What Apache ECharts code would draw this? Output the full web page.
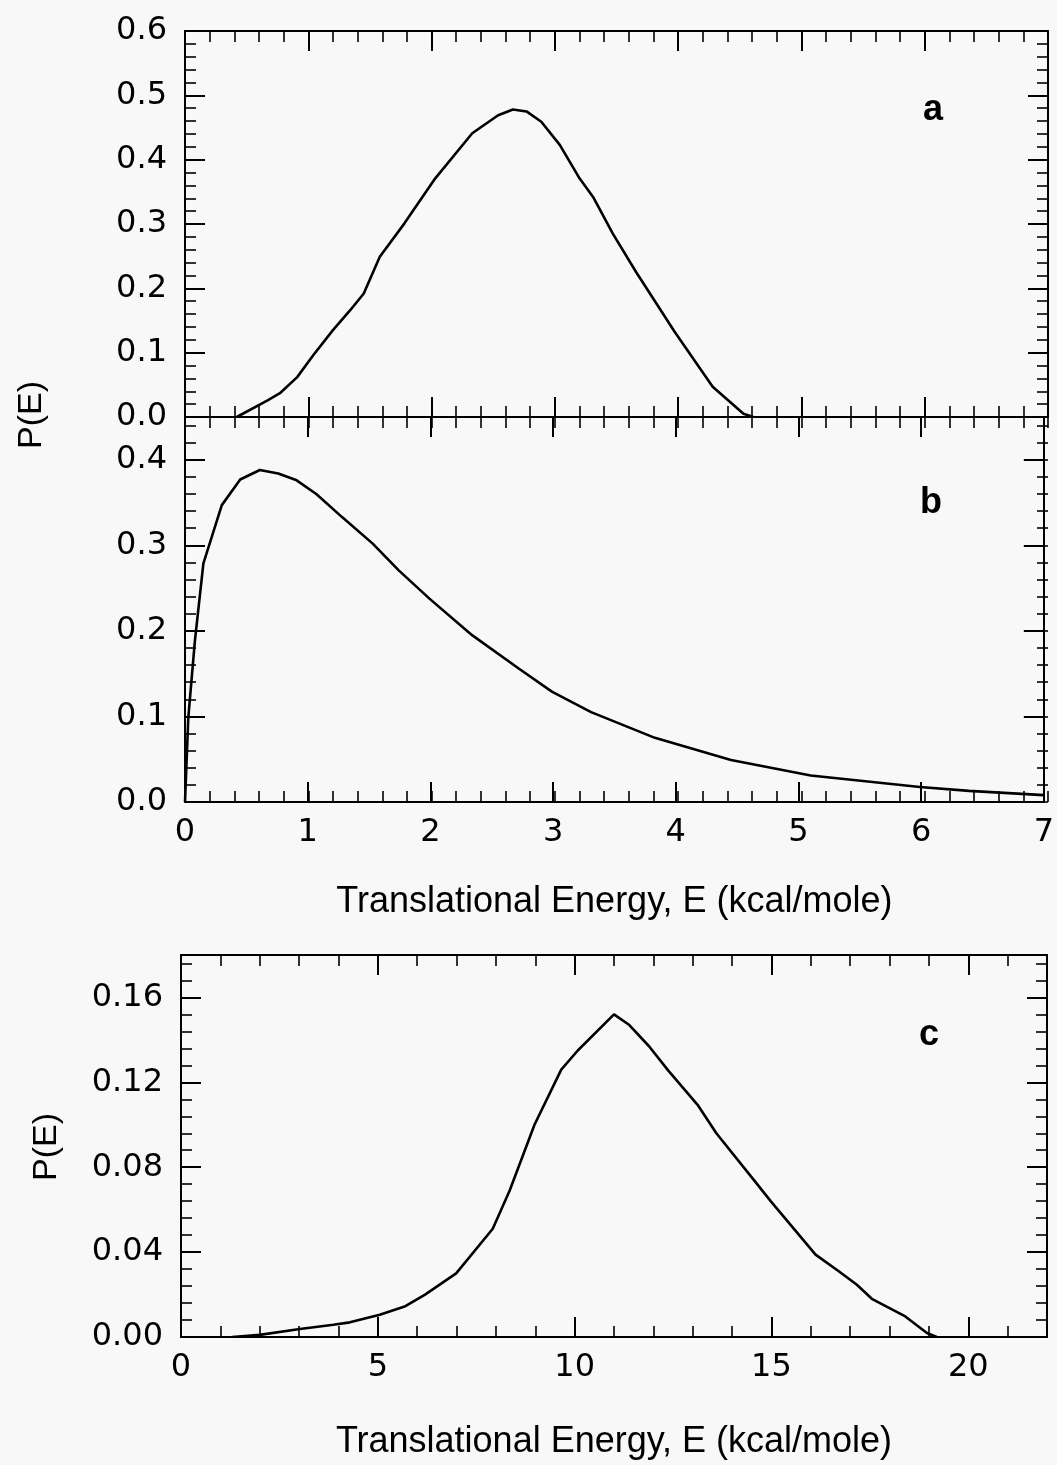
<!DOCTYPE html>
<html>
<head>
<meta charset="utf-8">
<script src="https://cdn.jsdelivr.net/npm/echarts@6/dist/echarts.min.js"></script>
<style>
html,body{margin:0;padding:0;background:#f8f8f8;}
#chart{width:1057px;height:1465px;}
</style>
</head>
<body>
<div id="chart"></div>
<script>
// Panel a
var aE = [0.42, 0.67, 0.77, 0.91, 1.04, 1.2, 1.34, 1.45, 1.58, 1.78, 2.03, 2.33, 2.54, 2.66, 2.77, 2.89, 3.04, 3.2, 3.31, 3.47, 3.66, 3.97, 4.28, 4.53, 4.61];
var aP = [0, 0.026, 0.037, 0.062, 0.096, 0.135, 0.166, 0.192, 0.249, 0.301, 0.371, 0.441, 0.469, 0.478, 0.475, 0.459, 0.423, 0.371, 0.342, 0.285, 0.225, 0.133, 0.047, 0.005, 0];
// Panel b
var bE = [0, 0.027, 0.081, 0.15, 0.30, 0.45, 0.61, 0.76, 0.91, 1.07, 1.28, 1.53, 1.74, 1.99, 2.34, 2.72, 2.99, 3.31, 3.83, 4.45, 5.1, 5.99, 6.39, 7.0];
var bP = [0, 0.099, 0.189, 0.279, 0.347, 0.377, 0.388, 0.384, 0.376, 0.360, 0.333, 0.302, 0.271, 0.238, 0.195, 0.156, 0.129, 0.105, 0.075, 0.049, 0.031, 0.0175, 0.013, 0.008];
// Panel c
var cE = [1.3, 2.0, 3.02, 3.87, 4.29, 5.05, 5.7, 6.2, 6.99, 7.92, 8.35, 8.98, 9.66, 10.08, 11.0, 11.39, 11.89, 12.38, 13.14, 13.6, 14.51, 14.98, 16.12, 16.71, 17.17, 17.55, 18.4, 18.95, 19.2];
var cP = [0, 0.001, 0.0038, 0.0058, 0.0069, 0.0105, 0.0145, 0.020, 0.030, 0.051, 0.069, 0.100, 0.126, 0.135, 0.152, 0.147, 0.137, 0.1255, 0.109, 0.096, 0.075, 0.064, 0.0388, 0.031, 0.0246, 0.018, 0.0097, 0.0019, 0];

// axis ranges and tick steps
var abXRange = [0, 7], abXMajor = 1, abXMinor = 0.2;
var aYRange = [0, 0.6], bYRange = [0, 0.45], abYMajor = 0.1, abYMinor = 0.02;
var cXRange = [0, 22], cXMajor = 5, cXMinor = 1;
var cYRange = [0, 0.18], cYMajor = 0.04, cYMinor = 0.008;

var xTitle = 'Translational Energy, E (kcal/mole)';
var yTitle = 'P(E)';

var FONT = '"Liberation Sans", Arial, sans-serif';
var TICKFONT = '"DejaVu Sans", sans-serif';
var BLACK = '#000';

var gridRects = [
  {left: 185, top: 31, width: 863, height: 386},
  {left: 185, top: 417, width: 863, height: 385},
  {left: 181, top: 955, width: 866, height: 382}
];
var grids = [];
gridRects.forEach(function (r) { grids.push(Object.assign({containLabel: false}, r)); });
gridRects.forEach(function (r) { grids.push(Object.assign({containLabel: false}, r)); });

function mkAxis(opts) {
  var major = opts.major;
  var ax = {
    type: 'value',
    gridIndex: opts.grid,
    position: opts.position,
    min: opts.range[0],
    max: opts.range[1],
    interval: opts.step,
    splitLine: {show: false},
    axisLine: {show: major, onZero: false, lineStyle: {color: BLACK, width: 2}},
    axisTick: {show: true, inside: true, length: major ? 20 : 11, lineStyle: {color: BLACK, width: major ? 2 : 1.6}},
    axisLabel: {
      show: !!opts.labels,
      color: BLACK,
      fontFamily: TICKFONT,
      fontSize: 32,
      margin: opts.margin || 16,
      showMaxLabel: opts.showMax !== false,
      formatter: opts.fmt || function (v) { return String(v); }
    }
  };
  if (opts.name) {
    ax.name = opts.name;
    ax.nameLocation = 'middle';
    ax.nameGap = opts.nameGap;
    ax.nameTextStyle = {color: BLACK, fontFamily: FONT, fontSize: 36};
  }
  return ax;
}

var fmt1 = function (v) { return v.toFixed(1); };
var fmt2 = function (v) { return v.toFixed(2); };
var fmt0 = function (v) { return String(Math.round(v)); };

var xAxes = [], yAxes = [];
var panels = [
  {xr: abXRange, xM: abXMajor, xm: abXMinor, yr: aYRange, yM: abYMajor, ym: abYMinor, xLab: false, yfmt: fmt1, yShowMax: true, xShowMax: true},
  {xr: abXRange, xM: abXMajor, xm: abXMinor, yr: bYRange, yM: abYMajor, ym: abYMinor, xLab: true, yfmt: fmt1, yShowMax: false, xShowMax: true, name: xTitle, nameGap: 82},
  {xr: cXRange, xM: cXMajor, xm: cXMinor, yr: cYRange, yM: cYMajor, ym: cYMinor, xLab: true, yfmt: fmt2, yShowMax: false, xShowMax: false, name: xTitle, nameGap: 87}
];
// major axes: grids 0..2 ; minor axes: grids 3..5
[true, false].forEach(function (major) {
  panels.forEach(function (p, i) {
    var g = major ? i : i + 3;
    xAxes.push(mkAxis({grid: g, position: 'bottom', major: major, range: p.xr, step: major ? p.xM : p.xm,
      labels: major && p.xLab, fmt: fmt0, showMax: p.xShowMax, margin: 15, name: major ? p.name : null, nameGap: p.nameGap}));
    xAxes.push(mkAxis({grid: g, position: 'top', major: major, range: p.xr, step: major ? p.xM : p.xm, labels: false}));
    yAxes.push(mkAxis({grid: g, position: 'left', major: major, range: p.yr, step: major ? p.yM : p.ym,
      labels: major, fmt: p.yfmt, showMax: p.yShowMax, margin: 18}));
    yAxes.push(mkAxis({grid: g, position: 'right', major: major, range: p.yr, step: major ? p.yM : p.ym, labels: false}));
  });
});

function pairs(xs, ys) { return xs.map(function (x, i) { return [x, ys[i]]; }); }

function lineSeries(idx, xs, ys) {
  return {
    type: 'line',
    xAxisIndex: idx * 2,
    yAxisIndex: idx * 2,
    data: pairs(xs, ys),
    showSymbol: false,
    symbol: 'none',
    smooth: false,
    silent: true,
    clip: true,
    lineStyle: {color: BLACK, width: 2.6},
    animation: false
  };
}

function txt(x, y, s, size, weight, rot) {
  return {
    type: 'text', x: x, y: y, rotation: rot || 0, silent: true,
    style: {
      text: s, fill: BLACK, font: (weight || 'normal') + ' ' + size + 'px ' + FONT,
      align: 'center', verticalAlign: 'middle', textAlign: 'center', textVerticalAlign: 'middle'
    }
  };
}

var option = {
  backgroundColor: '#f8f8f8',
  animation: false,
  grid: grids,
  xAxis: xAxes,
  yAxis: yAxes,
  series: [
    lineSeries(0, aE, aP),
    lineSeries(1, bE, bP),
    lineSeries(2, cE, cP)
  ],
  graphic: [
    txt(32, 415, yTitle, 34, 'normal', Math.PI / 2),
    txt(47, 1147, yTitle, 34, 'normal', Math.PI / 2),
    txt(933, 110, 'a', 36, 'bold'),
    txt(931, 503, 'b', 36, 'bold'),
    txt(929, 1035, 'c', 36, 'bold')
  ]
};

var chart = echarts.init(document.getElementById('chart'), null, {renderer: 'canvas'});
chart.setOption(option);
</script>
</body>
</html>
